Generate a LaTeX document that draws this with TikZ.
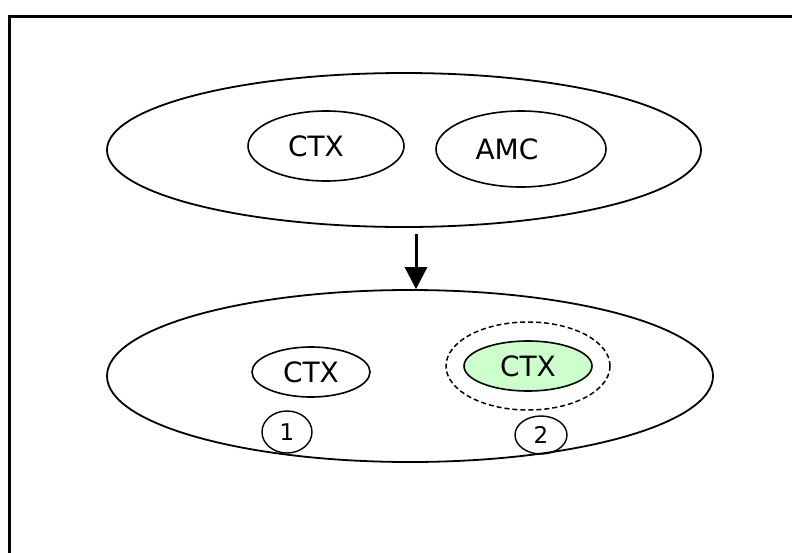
\documentclass[tikz,border=0pt]{standalone}
\usepackage{fontspec}
\setmainfont{DejaVu Sans}
\usetikzlibrary{shapes.geometric,arrows.meta}
\definecolor{palegreen}{HTML}{CCFFCC}
\begin{document}
\begin{tikzpicture}[x=1pt,y=-1pt,
  outer/.style={ellipse,draw,line width=1.8pt},
  blob/.style={ellipse,draw,line width=1.6pt,inner sep=0pt,font=\fontsize{28}{32}\selectfont},
  tag/.style={ellipse,draw,line width=1.4pt,inner sep=0pt,font=\fontsize{23}{26}\selectfont}]
\useasboundingbox (0,0) rectangle (792,552);
% frame
\draw[line width=3pt] (9,16) rectangle (820,580);
% upper group
\node[outer,minimum width=594pt,minimum height=154pt] (top) at (404,150) {};
\node[blob,minimum width=156pt,minimum height=70pt] (ctxA) at (326,146) {CTX\hspace*{20pt}};
\node[blob,minimum width=170pt,minimum height=76pt] (amc) at (521,149) {AMC\hspace*{28pt}};
% lower group
\node[outer,minimum width=606pt,minimum height=172pt] (bot) at (410,376) {};
\node[blob,minimum width=118pt,minimum height=50pt] (ctxB) at (311,372) {CTX};
\node[ellipse,draw,dash pattern=on 5pt off 3pt,line width=1.5pt,minimum width=164pt,minimum height=88pt] (halo) at (528,366) {};
\node[blob,fill=palegreen,minimum width=128pt,minimum height=50pt] (ctxC) at (528,366) {CTX};
\node[tag,minimum width=50pt,minimum height=42pt] (one) at (287,432) {1};
\node[tag,minimum width=52pt,minimum height=38pt] (two) at (541,435) {2};
% transition
\coordinate (arrS) at (416,234);
\draw[line width=3pt,-{Triangle[width=22pt,length=22pt]}] (arrS) -- (bot.north -| arrS);
\end{tikzpicture}
\end{document}
